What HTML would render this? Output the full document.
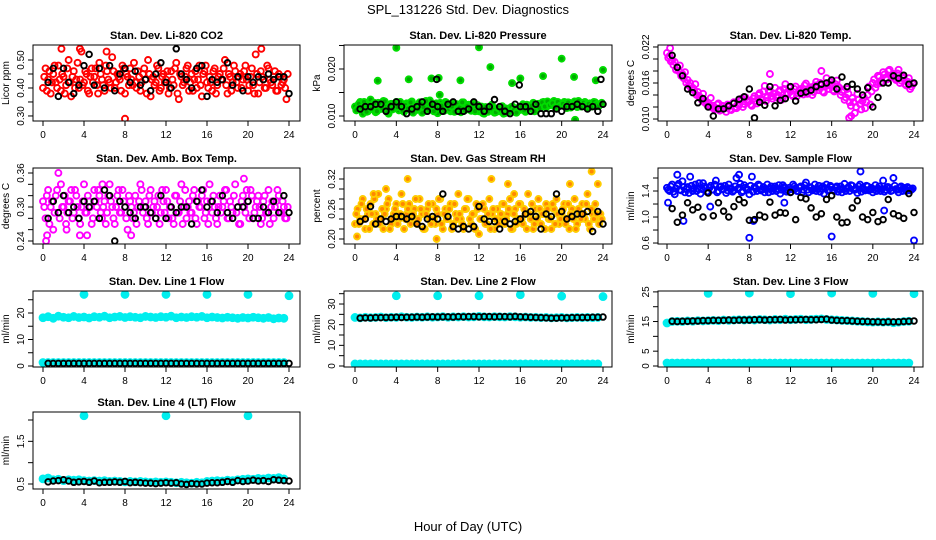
<!DOCTYPE html>
<html><head><meta charset="utf-8">
<style>
html,body{margin:0;padding:0;background:#fff;}
svg{display:block;font-family:"Liberation Sans",sans-serif;}
</style></head>
<body>
<svg id="chart" width="936" height="540" viewBox="0 0 936 540" xmlns="http://www.w3.org/2000/svg">
<rect x="0" y="0" width="936" height="540" fill="#fff"/>
<text x="468" y="14" font-size="13" text-anchor="middle">SPL_131226  Std. Dev. Diagnostics</text>
<text x="468" y="531" font-size="13" text-anchor="middle">Hour of Day (UTC)</text>
</svg>
<script>
// ---- data ----
const xTicks = [0,4,8,12,16,20,24];
const co2Color = [0.40,0.47,0.43,0.38,0.45,0.42,0.48,0.39,0.44,0.41,0.50,0.37,0.46,0.43,0.40,0.53,0.42,0.45,0.38,0.47,0.44,0.41,0.49,0.43,0.39,0.46,0.42,0.51,0.40,0.45,0.43,0.48,0.38,0.44,0.47,0.41,0.42,0.46,0.39,0.45,0.43,0.50,0.37,0.44,0.42,0.47,0.40,0.45,0.43,0.38,0.46,0.41,0.49,0.36,0.44,0.42,0.47,0.39,0.45,0.43,0.40,0.48,0.37,0.46,0.42,0.44,0.39,0.47,0.41,0.45,0.43,0.50,0.38,0.44,0.42,0.46,0.40,0.45,0.43,0.48,0.39,0.44,0.41,0.52,0.38,0.46,0.43,0.40,0.47,0.42,0.44,0.39,0.45,0.41,0.43,0.36];
const co2ColorB = [0.44,0.39,0.46,0.42,0.48,0.40,0.43,0.45,0.38,0.47,0.42,0.44,0.40,0.49,0.43,0.41,0.46,0.39,0.44,0.42,0.47,0.38,0.45,0.41,0.48,0.43,0.40,0.46,0.42,0.44,0.39,0.47,0.45,0.41,0.43,0.49,0.40,0.44,0.42,0.47,0.38,0.45,0.43,0.41,0.48,0.39,0.44,0.42,0.46,0.40,0.43,0.47,0.38,0.45,0.41,0.44,0.48,0.42,0.39,0.46,0.43,0.41,0.45,0.48,0.40,0.42,0.46,0.38,0.44,0.43,0.47,0.41,0.45,0.39,0.48,0.42,0.44,0.40,0.46,0.43,0.41,0.47,0.38,0.45,0.42,0.44,0.40,0.48,0.43,0.41,0.46,0.39,0.44,0.42,0.40,0.45];
const co2Black = [0.42,0.47,0.37,0.47,0.42,0.38,0.41,0.48,0.52,0.41,0.47,0.40,0.48,0.39,0.45,0.47,0.42,0.46,0.41,0.43,0.39,0.45,0.49,0.42,0.40,0.54,0.45,0.43,0.40,0.47,0.48,0.37,0.43,0.42,0.43,0.49,0.41,0.44,0.39,0.44,0.42,0.44,0.43,0.45,0.43,0.44,0.44,0.38];
const co2OutT = [8,1.8,3.6,6.2,21.3];
const co2OutV = [0.29,0.54,0.54,0.53,0.54];

const presColor = [12.0,11.5,13.0,10.5,12.5,11.0,13.5,12.0,10.8,12.8,11.5,13.2,12.2,10.5,12.6,11.8,13.0,11.2,12.4,10.9,12.7,11.6,13.1,12.0,11.3,12.9,10.7,12.5,11.9,13.3,11.4,12.2,10.6,12.8,11.7,13.0,12.1,11.0,12.6,11.5,12.3,10.8,12.9,11.6,12.4,11.1,12.7,11.9,11.0,12.0,10.5,11.8,11.2,12.4,10.7,11.6,11.0,12.1,10.6,11.5,11.2,12.0,10.8,11.7,11.3,12.5,10.9,12.0,11.6,12.8,11.1,12.6,12.2,13.0,11.8,12.9,12.4,13.2,11.9,12.7,12.3,13.0,11.7,12.8,12.2,13.1,11.9,12.6,12.4,13.0,11.8,12.7,12.3,12.9,12.1,12.5];
const presColorB = [11.2,12.6,11.8,13.0,10.9,12.2,11.5,12.8,11.0,12.4,11.7,13.1,10.8,12.0,11.4,12.7,11.9,13.0,11.1,12.3,11.6,12.9,10.7,12.1,11.5,12.6,11.9,13.2,11.3,12.4,11.0,12.7,11.6,12.2,11.1,12.8,11.4,12.0,10.9,12.5,11.8,12.9,11.2,12.1,11.5,12.6,11.0,12.3,11.6,10.6,11.9,10.9,12.0,11.3,10.8,11.7,11.2,10.5,11.6,10.9,11.9,11.3,10.7,11.8,12.0,11.2,12.4,11.5,12.2,11.0,12.5,11.7,12.9,12.0,13.1,12.3,12.7,11.9,13.0,12.2,12.6,12.0,12.9,11.8,12.5,12.2,13.2,12.0,12.8,12.3,12.6,12.0,13.0,12.4,12.2,12.8];
const presBlack = [11.5,12,12,12.5,12.5,11,12,13,12,10.5,11.5,12,13,11,12.5,12,11,12.5,13,11,11,11.5,13,12,11,12,13.5,12,11,10.5,12.5,12,12,11,12.5,10.5,10.5,10.5,11.5,11,12,12,12.5,12,11.5,12,11,12.5];
const presOutT = [2.2,4,5.2,7.4,8.1,8.2,10.2,12,13.1,15.2,16,18.2,20,21.2,21.3,23.3,24];
const presOutV = [17.5,24.5,17.8,18,18.1,14.5,17.6,24.6,20.4,17,18,18.5,22.2,18.3,9.2,17.6,19.8];
const presBlkOutT = [7.9,15.9,23.8];
const presBlkOutV = [17.8,16.6,17.8];

const tempColor = [21.0,20.5,19.8,19.5,18.6,18.9,17.5,17.8,16.5,16.0,15.2,15.8,14.5,13.6,14.2,13.0,12.7,13.5,12.2,11.8,12.6,11.6,12.1,11.2,12.0,11.5,12.8,11.8,12.3,13.4,12.5,13.2,13.0,12.2,13.8,12.6,14.3,13.1,15.5,13.6,14.5,13.4,15.2,14.0,14.8,13.5,15.8,14.2,14.6,13.8,15.4,14.3,15.0,14.1,15.9,14.6,15.3,14.5,16.2,14.8,15.6,14.4,16.8,15.0,15.8,14.6,16.4,15.2,14.5,13.2,15.0,12.8,13.5,11.0,14.2,12.5,13.0,11.8,14.0,12.4,16.0,15.2,17.2,16.0,17.8,16.8,18.0,17.2,17.5,16.5,18.2,16.4,17.0,15.6,16.8,15.4];
const tempColorB = [20.2,19.6,19.0,18.2,18.0,17.2,16.8,16.0,15.6,15.0,14.8,14.0,13.8,13.2,12.8,12.4,12.2,11.9,11.6,12.4,11.4,12.2,11.8,12.4,11.6,12.6,12.0,12.4,13.0,12.0,13.6,12.8,12.4,13.4,13.0,14.0,13.4,14.6,13.0,14.8,13.8,14.2,13.6,14.6,13.2,15.0,14.4,15.2,14.0,15.0,13.8,14.8,14.6,15.6,14.2,15.0,14.0,15.6,15.2,16.0,14.6,15.4,15.6,16.2,14.8,15.8,15.4,14.0,14.8,13.6,14.2,12.2,12.8,12.0,13.2,11.6,13.6,12.8,15.4,14.6,16.6,15.8,17.0,16.2,17.4,16.6,18.2,17.0,16.8,17.6,16.0,16.8,15.8,16.2,15.0,15.8];
const tempBlack = [20.6,18.6,17.2,15.0,14.4,12.7,13.4,12.0,10.5,11.7,11.7,12.2,12.6,13.3,13.7,15.0,10.2,12.8,12.3,15.4,12.2,13.1,13.4,15.4,13.0,14.3,14.5,14.8,15.4,15.8,16.0,16.5,15.0,17.0,15.4,15.8,15.0,14.0,15.2,12.0,13.6,16.0,16.0,17.2,16.8,17.3,15.8,16.0];
const tempOutT = [10,15,17.7,17.9,0.3];
const tempOutV = [17.5,18,10.2,10.5,21.8];

const ambColor = [.31,.28,.33,.30,.26,.32,.29,.34,.30,.27,.31,.33,.29,.32,.28,.30,.34,.29,.31,.27,.33,.30,.32,.28,.31,.29,.34,.30,.27,.32,.29,.33,.30,.26,.31,.28,.32,.30,.34,.29,.31,.27,.33,.30,.28,.32,.29,.31,.33,.28,.30,.27,.32,.29,.34,.30,.28,.31,.29,.33,.27,.30,.32,.28,.31,.34,.29,.30,.27,.32,.30,.33,.28,.31,.29,.34,.30,.27,.32,.29,.31,.33,.28,.30,.32,.27,.31,.29,.33,.30,.28,.31,.32,.29,.30,.28];
const ambColorB = [.30,.32,.27,.31,.29,.33,.28,.30,.32,.29,.31,.28,.33,.30,.27,.31,.29,.32,.30,.28,.31,.33,.29,.30,.27,.32,.31,.28,.30,.33,.29,.31,.28,.32,.30,.29,.27,.31,.33,.30,.28,.32,.29,.31,.30,.27,.33,.29,.31,.30,.28,.32,.29,.31,.27,.33,.30,.29,.32,.28,.31,.30,.33,.29,.27,.31,.32,.28,.30,.29,.31,.33,.28,.30,.32,.29,.27,.31,.30,.33,.28,.32,.29,.31,.30,.28,.32,.29,.27,.31,.30,.33,.29,.31,.28,.30];
const ambBlack = [.28,.31,.29,.32,.29,.30,.28,.31,.30,.31,.28,.33,.32,.24,.31,.30,.29,.28,.30,.30,.29,.28,.32,.28,.30,.29,.30,.30,.27,.31,.33,.30,.31,.29,.32,.29,.28,.30,.30,.31,.28,.28,.30,.29,.31,.29,.32,.29];
const ambOutT = [0.3,0.4,1.5,3.6,5.8,19.6,8.6,2.3,4.3];
const ambOutV = [0.24,0.25,0.36,0.25,0.34,0.35,0.25,0.26,0.25];

const rhColor = [.23,.26,.24,.28,.22,.25,.27,.23,.25,.29,.24,.22,.26,.28,.23,.25,.27,.24,.29,.22,.25,.27,.24,.26,.23,.28,.25,.22,.26,.24,.27,.23,.25,.28,.22,.26,.24,.27,.23,.25,.29,.24,.22,.26,.28,.23,.25,.27,.21,.24,.26,.23,.28,.25,.22,.26,.24,.27,.23,.25,.28,.22,.26,.24,.27,.23,.25,.29,.24,.22,.26,.28,.23,.25,.27,.24,.22,.26,.28,.23,.25,.27,.24,.22,.26,.28,.23,.25,.27,.24,.29,.22,.25,.27,.24,.25];
const rhColorB = [.25,.23,.27,.24,.26,.22,.25,.28,.24,.23,.26,.25,.27,.22,.24,.26,.23,.25,.27,.24,.26,.23,.25,.28,.24,.26,.22,.25,.27,.23,.24,.26,.28,.23,.25,.24,.26,.22,.27,.24,.25,.23,.26,.28,.24,.25,.22,.26,.24,.27,.23,.25,.22,.26,.24,.23,.25,.27,.24,.26,.22,.25,.23,.27,.24,.26,.22,.25,.27,.23,.24,.26,.25,.22,.26,.24,.27,.23,.25,.24,.26,.23,.27,.25,.24,.22,.26,.24,.25,.27,.23,.26,.24,.25,.23,.24];
const rhBlack = [.235,.24,.265,.23,.24,.235,.24,.245,.245,.24,.245,.23,.225,.24,.245,.24,.29,.245,.225,.22,.225,.22,.225,.265,.24,.235,.235,.22,.235,.23,.235,.24,.25,.255,.245,.22,.25,.245,.29,.255,.24,.245,.25,.25,.255,.215,.255,.23];
const rhOutT = [3,5.1,13.2,14.8,20.8,22.9,23.5,0.2,7.9,1.8,15.4];
const rhOutV = [.30,.32,.32,.31,.31,.335,.31,.205,.20,.29,.29];

const flowColor = [1.45,1.40,1.50,1.35,1.48,1.42,1.55,1.38,1.46,1.62,1.40,1.50,1.44,1.36,1.52,1.45,1.39,1.48,1.42,1.56,1.40,1.47,1.43,1.37,1.50,1.44,1.41,1.60,1.45,1.38,1.49,1.43,1.35,1.62,1.46,1.40,1.48,1.42,1.38,1.50,1.44,1.40,1.47,1.43,1.36,1.49,1.45,1.41,1.38,1.50,1.44,1.40,1.47,1.42,1.53,1.38,1.45,1.43,1.40,1.48,1.44,1.36,1.50,1.42,1.46,1.40,1.47,1.43,1.38,1.51,1.44,1.40,1.48,1.42,1.37,1.50,1.45,1.41,1.47,1.43,1.38,1.49,1.44,1.40,1.56,1.42,1.46,1.40,1.60,1.43,1.38,1.47,1.45,1.40,1.44,1.42];
const flowColorB = [1.42,1.47,1.39,1.44,1.51,1.41,1.46,1.43,1.37,1.48,1.44,1.40,1.52,1.43,1.47,1.39,1.45,1.42,1.50,1.38,1.46,1.43,1.48,1.41,1.44,1.39,1.47,1.43,1.51,1.40,1.45,1.42,1.48,1.39,1.44,1.50,1.41,1.46,1.43,1.38,1.47,1.44,1.40,1.49,1.42,1.46,1.39,1.45,1.43,1.47,1.40,1.45,1.38,1.49,1.42,1.46,1.41,1.50,1.43,1.39,1.47,1.44,1.41,1.48,1.42,1.45,1.39,1.47,1.43,1.40,1.46,1.49,1.42,1.44,1.47,1.39,1.43,1.48,1.41,1.45,1.42,1.40,1.47,1.43,1.39,1.46,1.44,1.41,1.48,1.42,1.45,1.40,1.43,1.46,1.41,1.44];
const flowBlack = [1.13,0.92,1.03,1.22,1.11,1.15,1.00,1.37,1.02,1.22,1.09,1.00,1.16,1.27,1.22,0.95,0.96,1.03,1.00,1.23,1.03,1.07,1.06,1.38,0.96,1.30,1.28,1.14,1.00,1.05,1.27,1.33,1.00,0.91,0.92,1.14,1.25,1.00,0.96,1.07,0.93,0.96,1.27,1.05,1.02,0.98,1.36,1.07];
const flowOutT = [0.1,1.6,8,8.4,16,24,18.8,4.2,11.4,21.1,1,7];
const flowOutV = [1.22,0.94,0.68,0.94,0.7,0.64,1.7,1.16,1.22,1.1,1.65,1.65];

const l1Upper = [18.2,18.6,18.0,18.8,18.4,18.2,18.7,18.3,18.5,18.1,18.6,18.4,18.8,18.2,18.5,18.7,18.3,18.6,18.4,18.2,18.7,18.5,18.3,18.6,18.4,18.8,18.2,18.5,18.3,18.6,18.4,18.7,18.2,18.5,18.3,18.1,18.4,18.2,18.0,18.3,18.1,18.4,18.2,18.0,18.3,17.8,18.1,18.0];
const l1Lower = [1.3,1.3,1.3,1.3,1.3,1.3,1.3,1.3,1.3,1.3,1.3,1.3,1.3,1.3,1.3,1.3,1.3,1.3,1.3,1.3,1.3,1.3,1.3,1.3,1.3,1.3,1.3,1.3,1.3,1.3,1.3,1.3,1.3,1.3,1.3,1.3,1.3,1.3,1.3,1.3,1.3,1.3,1.3,1.3,1.3,1.3,1.3,1.3];
const l1Black = [1.0,1.0,1.0,1.0,1.0,1.0,1.0,1.0,1.0,1.0,1.0,1.0,1.0,1.0,1.0,1.0,1.0,1.0,1.0,1.0,1.0,1.0,1.0,1.0,1.0,1.0,1.0,1.0,1.0,1.0,1.0,1.0,1.0,1.0,1.0,1.0,1.0,1.0,1.0,1.0,1.0,1.0,1.0,1.0,1.0,1.0,1.0,1.0];
const l1OutT = [4,8,12,16,20,24];
const l1OutV = [27,27,27,27,27,26.5];

const l2Upper = [23.5,23.3,23.6,23.4,23.5,23.7,23.4,23.6,23.5,23.8,23.6,23.5,23.7,23.6,23.8,23.6,23.7,23.9,23.6,23.8,23.7,23.9,23.7,23.8,24.0,23.8,23.7,23.9,23.8,23.7,23.9,23.8,23.6,23.7,23.5,23.6,23.4,23.5,23.3,23.4,23.5,23.3,23.4,23.5,23.4,23.5,23.4,23.5];
const l2Lower = [1.0,1.0,1.0,1.0,1.0,1.0,1.0,1.0,1.0,1.0,1.0,1.0,1.0,1.0,1.0,1.0,1.0,1.0,1.0,1.0,1.0,1.0,1.0,1.0,1.0,1.0,1.0,1.0,1.0,1.0,1.0,1.0,1.0,1.0,1.0,1.0,1.0,1.0,1.0,1.0,1.0,1.0,1.0,1.0,1.0,1.0,1.0,1.0];
const l2Black = [23.2,23.3,23.3,23.4,23.4,23.5,23.5,23.6,23.5,23.6,23.6,23.7,23.6,23.7,23.8,23.7,23.8,23.8,23.7,23.9,23.8,23.9,23.9,23.8,23.9,23.9,23.8,23.9,23.9,23.8,24.0,23.8,23.7,23.6,23.5,23.4,23.3,23.2,23.2,23.3,23.3,23.4,23.4,23.5,23.5,23.6,23.6,23.7];
const l2OutT = [4,8,12,16,20,24];
const l2OutV = [34,34,34,34.5,33.8,33.6];

const l3Upper = [14.5,15.0,15.1,15.0,15.2,15.1,15.3,15.2,15.3,15.4,15.3,15.5,15.4,15.5,15.6,15.5,15.6,15.5,15.7,15.6,15.5,15.7,15.6,15.8,15.6,15.7,15.8,15.6,15.7,15.8,15.9,15.7,15.6,15.5,15.4,15.3,15.2,15.1,15.0,14.9,14.8,14.9,14.8,14.9,14.6,14.8,15.0,15.1];
const l3Lower = [1.0,1.0,1.0,1.0,1.0,1.0,1.0,1.0,1.0,1.0,1.0,1.0,1.0,1.0,1.0,1.0,1.0,1.0,1.0,1.0,1.0,1.0,1.0,1.0,1.0,1.0,1.0,1.0,1.0,1.0,1.0,1.0,1.0,1.0,1.0,1.0,1.0,1.0,1.0,1.0,1.0,1.0,1.0,1.0,1.0,1.0,1.0,1.0];
const l3Black = [15.1,15.0,15.1,15.1,15.2,15.2,15.3,15.3,15.4,15.4,15.4,15.5,15.4,15.5,15.5,15.5,15.6,15.6,15.5,15.6,15.6,15.7,15.5,15.6,15.6,15.6,15.7,15.6,15.6,15.7,15.8,15.5,15.4,15.3,15.3,15.2,15.1,15.0,15.0,14.9,14.9,14.8,14.9,14.9,14.9,15.0,15.1,15.2];
const l3OutT = [4,8,12,16,20,24];
const l3OutV = [24.5,24.6,24.4,24.6,24.5,24.4];

const l4Upper = [0.62,0.64,0.60,0.61,0.58,0.60,0.59,0.60,0.58,0.57,0.58,0.57,0.58,0.56,0.57,0.56,0.55,0.56,0.55,0.56,0.55,0.54,0.55,0.54,0.55,0.54,0.53,0.54,0.53,0.52,0.54,0.53,0.56,0.57,0.58,0.57,0.59,0.58,0.60,0.61,0.62,0.61,0.63,0.62,0.64,0.63,0.65,0.62];
const l4Black = [0.55,0.57,0.58,0.60,0.57,0.54,0.55,0.56,0.54,0.57,0.53,0.54,0.54,0.55,0.54,0.56,0.53,0.54,0.53,0.52,0.52,0.51,0.52,0.53,0.52,0.53,0.50,0.49,0.51,0.50,0.50,0.52,0.53,0.53,0.54,0.56,0.54,0.58,0.56,0.57,0.59,0.57,0.58,0.56,0.60,0.59,0.58,0.57];
const l4OutT = [4,12,20];
const l4OutV = [2.1,2.1,2.1];

const tick48 = [0.5,1,1.5,2,2.5,3,3.5,4,4.5,5,5.5,6,6.5,7,7.5,8,8.5,9,9.5,10,10.5,11,11.5,12,12.5,13,13.5,14,14.5,15,15.5,16,16.5,17,17.5,18,18.5,19,19.5,20,20.5,21,21.5,22,22.5,23,23.5,24];
const tick96 = [0,0.25,0.5,0.75,1,1.25,1.5,1.75,2,2.25,2.5,2.75,3,3.25,3.5,3.75,4,4.25,4.5,4.75,5,5.25,5.5,5.75,6,6.25,6.5,6.75,7,7.25,7.5,7.75,8,8.25,8.5,8.75,9,9.25,9.5,9.75,10,10.25,10.5,10.75,11,11.25,11.5,11.75,12,12.25,12.5,12.75,13,13.25,13.5,13.75,14,14.25,14.5,14.75,15,15.25,15.5,15.75,16,16.25,16.5,16.75,17,17.25,17.5,17.75,18,18.25,18.5,18.75,19,19.25,19.5,19.75,20,20.25,20.5,20.75,21,21.25,21.5,21.75,22,22.25,22.5,22.75,23,23.25,23.5,23.75];
const tick96b = [0.125,0.375,0.625,0.875,1.125,1.375,1.625,1.875,2.125,2.375,2.625,2.875,3.125,3.375,3.625,3.875,4.125,4.375,4.625,4.875,5.125,5.375,5.625,5.875,6.125,6.375,6.625,6.875,7.125,7.375,7.625,7.875,8.125,8.375,8.625,8.875,9.125,9.375,9.625,9.875,10.125,10.375,10.625,10.875,11.125,11.375,11.625,11.875,12.125,12.375,12.625,12.875,13.125,13.375,13.625,13.875,14.125,14.375,14.625,14.875,15.125,15.375,15.625,15.875,16.125,16.375,16.625,16.875,17.125,17.375,17.625,17.875,18.125,18.375,18.625,18.875,19.125,19.375,19.625,19.875,20.125,20.375,20.625,20.875,21.125,21.375,21.625,21.875,22.125,22.375,22.625,22.875,23.125,23.375,23.625,23.875];
const tick48b = [0,0.5,1,1.5,2,2.5,3,3.5,4,4.5,5,5.5,6,6.5,7,7.5,8,8.5,9,9.5,10,10.5,11,11.5,12,12.5,13,13.5,14,14.5,15,15.5,16,16.5,17,17.5,18,18.5,19,19.5,20,20.5,21,21.5,22,22.5,23,23.5];

const svg = document.getElementById('chart');
const NS = 'http://www.w3.org/2000/svg';
function mk(tag, attrs, parent){ const e=document.createElementNS(NS,tag); for(const k in attrs) e.setAttribute(k,attrs[k]); (parent||svg).appendChild(e); return e; }

const cols = [{l:33,r:300,x0:43,x1:289},{l:344,r:612,x0:355,x1:603},{l:658,r:923,x0:667,x1:914}];
const rows = [{t:45,b:121},{t:168,b:244},{t:291,b:367},{t:412,b:489}];

const panels = [
 {name:'co2',title:'Stan. Dev. Li-820 CO2',ylab:'Licor ppm',c:0,r:0,ymin:0.282,ymax:0.5536,ticks:[0.30,0.35,0.40,0.45,0.50],labels:['0.30','','0.40','','0.50'],col:'#ff0000',
  series:[[tick96,co2Color],[tick96b,co2ColorB],[co2OutT,co2OutV]],black:[[tick48,co2Black]]},
 {name:'pressure',title:'Stan. Dev. Li-820 Pressure',ylab:'kPa',c:1,r:0,ymin:8.94,ymax:25.1,ticks:[10,15,20,25],labels:['0.010','','0.020',''],col:'#00dd00',fill:'#00aa00',
  series:[[tick96,presColor],[tick96b,presColorB],[presOutT,presOutV]],black:[[tick48,presBlack],[presBlkOutT,presBlkOutV]]},
 {name:'temp',title:'Stan. Dev. Li-820 Temp.',ylab:'degrees C',c:2,r:0,ymin:9.67,ymax:22.33,ticks:[10,12,14,16,18,20,22],labels:['0.010','','','0.016','','','0.022'],col:'#ff00ff',
  series:[[tick96,tempColor],[tick96b,tempColorB],[tempOutT,tempOutV]],black:[[tick48,tempBlack]]},
 {name:'ambbox',title:'Stan. Dev. Amb. Box Temp.',ylab:'degrees C',c:0,r:1,ymin:0.2347,ymax:0.3688,ticks:[.24,.26,.28,.30,.32,.34,.36],labels:['0.24','','','0.30','','','0.36'],col:'#ff00ff',
  series:[[tick96,ambColor],[tick96b,ambColorB],[ambOutT,ambOutV]],black:[[tick48,ambBlack]]},
 {name:'rh',title:'Stan. Dev. Gas Stream RH',ylab:'percent',c:1,r:1,ymin:0.19,ymax:0.342,ticks:[.20,.22,.24,.26,.28,.30,.32],labels:['0.20','','','0.26','','','0.32'],col:'#ffcc00',fill:'#ff8800',
  series:[[tick96,rhColor],[tick96b,rhColorB],[rhOutT,rhOutV]],black:[[tick48,rhBlack]]},
 {name:'sampleflow',title:'Stan. Dev. Sample Flow',ylab:'ml/min',c:2,r:1,ymin:0.585,ymax:1.754,ticks:[0.6,0.8,1.0,1.2,1.4,1.6],labels:['0.6','','1.0','','1.4',''],col:'#0000ff',
  series:[[tick96,flowColor],[tick96b,flowColorB],[flowOutT,flowOutV]],black:[[tick48,flowBlack]]},
 {name:'line1',title:'Stan. Dev. Line 1 Flow',ylab:'ml/min',c:0,r:2,ymin:-0.38,ymax:28.3,ticks:[0,5,10,15,20,25],labels:['0','','10','','20',''],col:'#00eeee',fill:'#00eeee',thick:true,
  series:[[tick48b,l1Upper],[tick48b,l1Lower],[l1OutT,l1OutV]],black:[[tick48,l1Black]]},
 {name:'line2',title:'Stan. Dev. Line 2 Flow',ylab:'ml/min',c:1,r:2,ymin:-0.48,ymax:36.3,ticks:[0,5,10,15,20,25,30,35],labels:['0','','10','','20','','30',''],col:'#00eeee',fill:'#00eeee',thick:true,
  series:[[tick48b,l2Upper],[tick48b,l2Lower],[l2OutT,l2OutV]],black:[[tick48,l2Black]]},
 {name:'line3',title:'Stan. Dev. Line 3 Flow',ylab:'ml/min',c:2,r:2,ymin:-0.34,ymax:25.3,ticks:[0,5,10,15,20,25],labels:['0','5','','15','','25'],col:'#00eeee',fill:'#00eeee',thick:true,
  series:[[tick48b,l3Upper],[tick48b,l3Lower],[l3OutT,l3OutV]],black:[[tick48,l3Black]]},
 {name:'line4',title:'Stan. Dev. Line 4 (LT) Flow',ylab:'ml/min',c:0,r:3,ymin:0.383,ymax:2.1875,ticks:[0.5,1.0,1.5,2.0],labels:['0.5','','1.5',''],col:'#00eeee',fill:'#00eeee',thick:true,
  series:[[tick48b,l4Upper],[l4OutT,l4OutV]],black:[[tick48,l4Black]]}
];

panels.forEach(p=>{
  const C=cols[p.c], R=rows[p.r];
  const g=mk('g',{});
  
  
  const xs = v => C.x0 + (v/24)*(C.x1-C.x0);
  const ys = v => R.b - (v-p.ymin)/(p.ymax-p.ymin)*(R.b-R.t);
  const clip='clip-'+p.name;
  const cp=mk('clipPath',{id:clip},g); mk('rect',{x:C.l,y:R.t,width:C.r-C.l,height:R.b-R.t},cp);
  const pts=mk('g',{'clip-path':'url(#'+clip+')'},g);
  
  
  p.series.forEach(s=>{
    s[0].forEach((t,i)=>{
      const c=mk('circle',{cx:xs(t),cy:ys(s[1][i]),r:p.thick?3.2:3,fill:p.fill||'none',stroke:p.col,'stroke-width':p.thick?2.4:1.9},pts);
      
      
    });
  });
  p.black.forEach(s=>{
    s[0].forEach((t,i)=>{
      const c=mk('circle',{cx:xs(t),cy:ys(s[1][i]),r:2.8,fill:'none',stroke:'#000','stroke-width':1.9},pts);
      
      
    });
  });
  const box=mk('rect',{x:C.l,y:R.t,width:C.r-C.l,height:R.b-R.t,fill:'none',stroke:'#000','stroke-width':1},g);
  
  
  const tt=mk('text',{x:(C.l+C.r)/2,y:R.t-6,'font-size':11,'font-weight':'bold','text-anchor':'middle'},g);
  tt.textContent=p.title;
  
  
  xTicks.forEach(v=>{
    mk('line',{x1:xs(v),x2:xs(v),y1:R.b,y2:R.b+5,stroke:'#000'},g);
    const tx=mk('text',{x:xs(v),y:R.b+17,'font-size':10,'text-anchor':'middle'},g);
    tx.textContent=v;
    
    
  });
  p.ticks.forEach((v,i)=>{
    const y=ys(v);
    mk('line',{x1:C.l-5,x2:C.l,y1:y,y2:y,stroke:'#000'},g);
    if(p.labels[i]){
      const ty=mk('text',{x:0,y:0,'font-size':10,'text-anchor':'middle',transform:'translate('+(C.l-9)+','+y+') rotate(-90)'},g);
      ty.textContent=p.labels[i];
      
      
    }
  });
  const yl=mk('text',{x:0,y:0,'font-size':10,'text-anchor':'middle',transform:'translate('+(C.l-24)+','+((R.t+R.b)/2)+') rotate(-90)'},g);
  yl.textContent=p.ylab;
  
  
});
</script>
</body></html>
